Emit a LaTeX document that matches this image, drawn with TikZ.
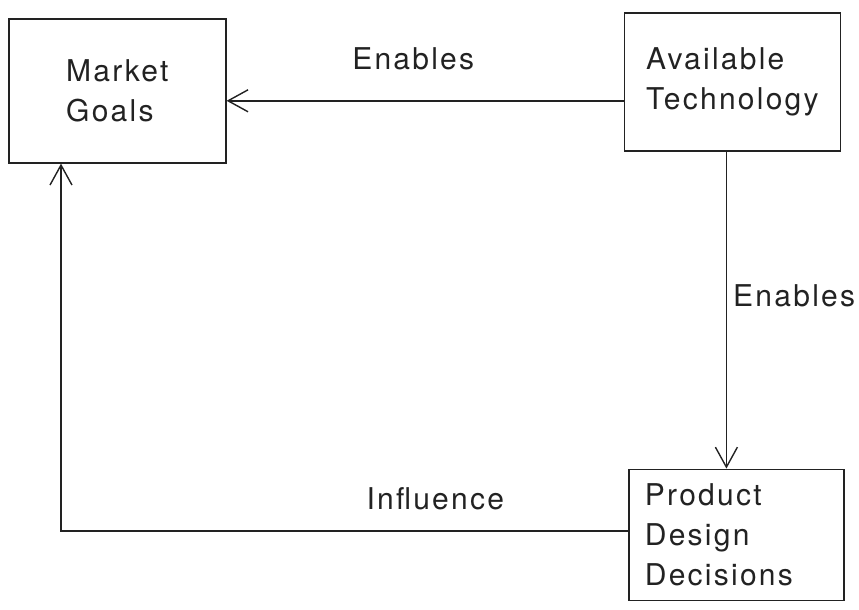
\documentclass[tikz,border=0pt]{standalone}
\usepackage{fontspec}
\setmainfont{TeX Gyre Heros}[LetterSpace=7.5]
\usetikzlibrary{arrows.meta,positioning}
\definecolor{cInk}{HTML}{222222}
\tikzset{
  blockbox/.style={draw=cInk, line width=1.6pt, align=left, text=cInk,
    font=\fontsize{30}{40}\selectfont},
  flow/.style={-{Straight Barb[length=20pt, width=22pt, line width=1.4pt]},
    draw=cInk, line width=1.6pt},
  lbl/.style={inner sep=0pt, text=cInk, font=\fontsize{30}{36}\selectfont},
}

\begin{document}
\begin{tikzpicture}
  \useasboundingbox (0,0) rectangle (859pt,-610pt);
  \node[blockbox, minimum width=217pt, minimum height=144pt, anchor=north west]
    (goals) at (8pt,-18pt) {Market\\Goals};
  \node[blockbox, minimum width=216pt, minimum height=138pt,
    right=397pt of goals, yshift=9pt] (tech) {Available\\Technology};
  \node[blockbox, minimum width=215pt, minimum height=131pt, text width=183pt,
    inner xsep=16pt, below=317pt of tech, xshift=4pt] (design) {Product\\Design\\Decisions};
  % technology enables both
  \draw[flow] ([yshift=-19pt]tech.west) -- node[lbl, pos=0.53, above=30pt] {Enables} ([yshift=-10pt]goals.east);
  \draw[flow] ([xshift=-6pt]tech.south) -- node[lbl, pos=0.454, right=6pt] {Enables} ([xshift=-6pt]tech.south |- design.north);
  % feedback to the goals
  \draw[flow] ([yshift=4pt]design.west) -| node[lbl, pos=0.17, above=20pt] {Influence} ([xshift=53pt]goals.south west);
\end{tikzpicture}
\end{document}
